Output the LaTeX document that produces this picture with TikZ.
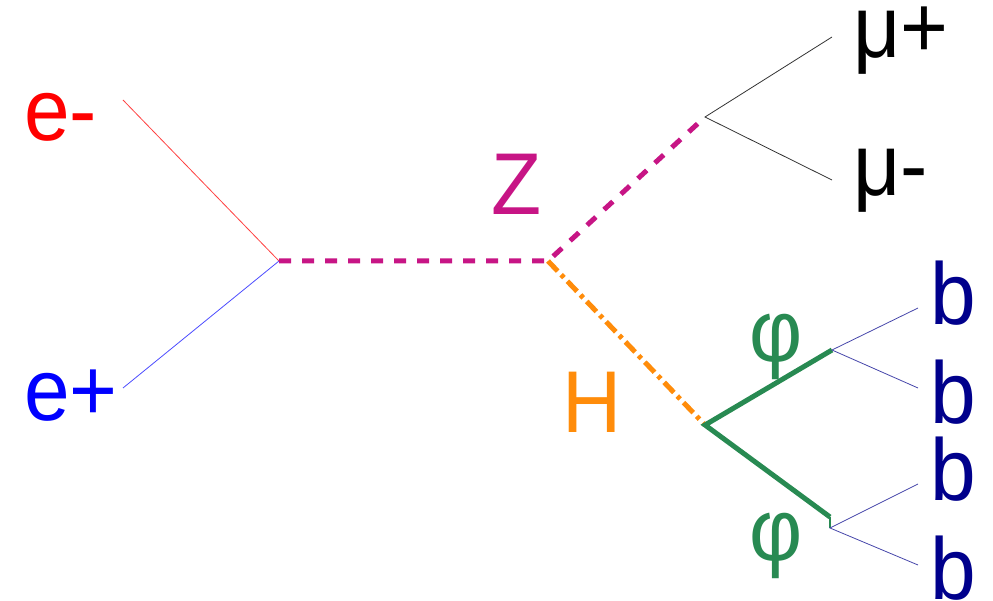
\documentclass[tikz,border=0pt]{standalone}
\usepackage{fontspec}
\setmainfont{Liberation Sans}
\definecolor{zmag}{RGB}{199,21,133}
\definecolor{horange}{RGB}{255,140,10}
\definecolor{phigreen}{RGB}{40,138,82}
\definecolor{bnavy}{RGB}{0,0,140}
\definecolor{bline}{RGB}{70,70,170}
\begin{document}
\begin{tikzpicture}[x=1pt,y=-1pt,
  lbl/.style={anchor=base west,inner sep=0pt,font=\fontsize{82}{82}\selectfont},
  fermion/.style={line width=0.8pt},
  zline/.style={draw=zmag,line width=5pt,dash pattern=on 12pt off 11pt},
  hline/.style={draw=horange,line width=5pt,dash pattern=on 14pt off 5pt on 4pt off 5pt},
  philine/.style={draw=phigreen,line width=5pt}]
\useasboundingbox (0,0) rectangle (993,601);
% vertices
\coordinate (v1) at (279,261);
\coordinate (v2) at (548,261);
\coordinate (vmu) at (705,117);
\coordinate (vh) at (705,425);
\coordinate (p1) at (832,350);
\coordinate (p2) at (830,517);
\coordinate (p2b) at (830,528);
% free ends
\coordinate (em) at (123,100);
\coordinate (ep) at (123,388);
\coordinate (mup) at (832,37);
\coordinate (mum) at (832,180);
\coordinate (b1) at (918,308);
\coordinate (b2) at (918,388);
\coordinate (b3) at (918,484);
\coordinate (b4) at (918,565);
% lines
\draw[fermion,draw=red!75] (em) -- (v1);
\draw[fermion,draw=blue!70] (ep) -- (v1);
\draw[zline] (v1) -- (v2) -- (vmu);
\draw[hline] (v2) -- (vh);
\draw[fermion,draw=black!80] (mup) -- (vmu) -- (mum);
\draw[philine] (p1) -- (vh) -- (p2);
\draw[phigreen,line width=2pt] (p2) -- (p2b);
\draw[fermion,draw=bline] (b1) -- (p1) -- (b2);
\draw[fermion,draw=bline] (b3) -- (p2b) -- (b4);
% labels
\node[lbl,text=red] (lem) at (24,141) {\scalebox{1}[1.07]{e-}};
\node[lbl,text=blue] (lep) at (24,420) {\scalebox{1}[1.07]{e+}};
\node[lbl,text=zmag] (lz) at (491,215) {\scalebox{1}[1.07]{Z}};
\node[lbl,text=horange] (lh) at (562,432) {\scalebox{1}[1.07]{H}};
\node[lbl,text=black] (lmup) at (853,58) {\scalebox{1}[1.07]{μ+}};
\node[lbl,text=black] (lmum) at (853,196) {\scalebox{1}[1.07]{μ-}};
\node[lbl,text=bnavy] (lb1) at (930,325) {\scalebox{1}[1.07]{b}};
\node[lbl,text=bnavy] (lb2) at (930,423) {\scalebox{1}[1.07]{b}};
\node[lbl,text=bnavy] (lb3) at (930,500) {\scalebox{1}[1.07]{b}};
\node[lbl,text=bnavy] (lb4) at (930,599) {\scalebox{1}[1.07]{b}};
\node[lbl,text=phigreen] (lphi1) at (749,362) {\scalebox{1}[1.07]{φ}};
\node[lbl,text=phigreen] (lphi2) at (749,560) {\scalebox{1}[1.07]{φ}};
\end{tikzpicture}
\end{document}
